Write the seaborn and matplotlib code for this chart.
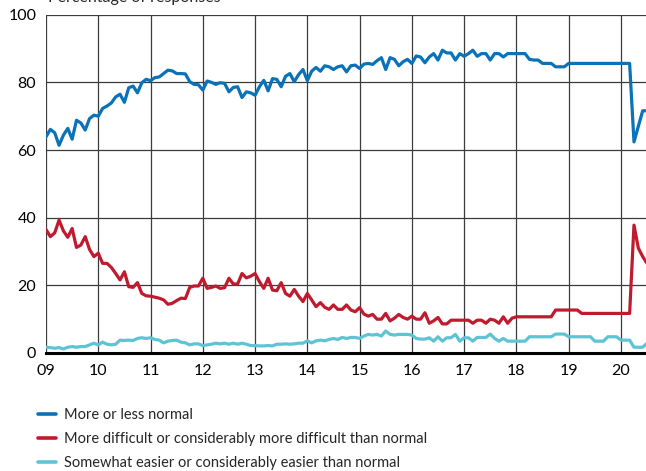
import numpy as np
import pandas as pd
import seaborn as sns
import matplotlib.pyplot as plt

# monthly survey shares, Jan 2009 .. Jul 2020 (percent of responses)
normal = [
    63.9, 66.1, 65.1, 61.4, 64.4, 66.4, 63.2, 68.8, 68.0, 65.9, 69.3, 70.3,  # 2009
    70.0, 72.3, 73.0, 73.9, 75.7, 76.5, 74.1, 78.4, 78.9, 76.9, 79.9, 80.9,  # 2010
    80.5, 81.4, 81.6, 82.6, 83.6, 83.4, 82.6, 82.6, 82.5, 80.2, 79.4, 79.3,  # 2011
    77.7, 80.4, 80.0, 79.4, 79.9, 79.7, 77.2, 78.5, 78.7, 75.5, 77.2, 76.9,  # 2012
    76.2, 78.7, 80.6, 77.5, 81.1, 80.9, 78.7, 81.8, 82.6, 80.2, 82.3, 83.8,  # 2013
    80.5, 83.3, 84.4, 83.3, 84.9, 84.6, 83.8, 84.6, 84.9, 83.1, 84.9, 85.1,  # 2014
    84.1, 85.4, 85.6, 85.3, 86.4, 87.3, 83.8, 87.3, 86.8, 84.9, 86.1, 86.8,  # 2015
    85.6, 87.8, 87.5, 85.8, 87.5, 88.5, 86.6, 89.5, 88.7, 88.7, 86.6, 88.5,  # 2016
    87.7, 88.5, 89.5, 87.7, 88.5, 88.5, 86.6, 88.5, 88.5, 87.5, 88.5, 88.5,  # 2017
    88.5, 88.5, 88.5, 86.8, 86.6, 86.6, 85.6, 85.6, 85.6, 84.6, 84.6, 84.6,  # 2018
    85.6, 85.6, 85.6, 85.6, 85.6, 85.6, 85.6, 85.6, 85.6, 85.6, 85.6, 85.6,  # 2019
    85.6, 85.6, 85.6, 62.4, 67.0, 71.6, 71.6,                                # 2020
]
harder = [
    36.5, 34.4, 35.5, 39.3, 36.1, 34.2, 36.8, 31.2, 31.9, 34.4, 30.6, 28.5,
    29.5, 26.5, 26.5, 25.3, 23.5, 21.6, 24.0, 19.6, 19.4, 20.8, 17.6, 16.9,
    16.8, 16.5, 16.2, 15.7, 14.4, 14.7, 15.5, 16.2, 16.1, 19.4, 19.8, 19.8,
    22.1, 19.1, 19.4, 19.8, 19.1, 19.3, 22.1, 20.4, 20.4, 23.5, 22.2, 22.7,
    23.5, 21.1, 19.1, 22.1, 18.6, 18.4, 20.8, 17.6, 16.8, 18.8, 16.8, 15.2,
    17.6, 15.7, 13.7, 14.9, 13.5, 12.9, 14.2, 12.9, 12.9, 14.2, 12.7, 12.2,
    13.4, 11.5, 10.9, 11.4, 10.0, 10.0, 11.7, 9.5, 10.3, 11.4, 10.5, 10.0,
    10.9, 10.0, 10.0, 11.9, 8.8, 9.5, 10.5, 8.6, 8.6, 9.7, 9.7, 9.7,
    9.7, 9.7, 8.8, 9.7, 9.7, 8.8, 10.0, 9.7, 8.8, 10.7, 8.8, 10.3,
    10.7, 10.7, 10.7, 10.7, 10.7, 10.7, 10.7, 10.7, 10.7, 12.7, 12.7, 12.7,
    12.7, 12.7, 12.7, 11.7, 11.7, 11.7, 11.7, 11.7, 11.7, 11.7, 11.7, 11.7,
    11.7, 11.7, 11.7, 37.8, 31.0, 28.5, 26.5,
]
easier = [
    1.7, 1.6, 1.4, 1.6, 1.2, 1.7, 1.9, 1.7, 1.9, 1.9, 2.4, 2.9,
    2.4, 3.2, 2.6, 2.4, 2.6, 3.8, 3.7, 3.8, 3.7, 4.3, 4.5, 4.3,
    4.5, 4.0, 3.8, 3.0, 3.5, 3.7, 3.8, 3.2, 3.0, 2.4, 2.7, 2.7,
    2.2, 2.4, 2.6, 2.9, 2.7, 2.9, 2.6, 2.9, 2.6, 2.9, 2.6, 2.2,
    2.2, 2.1, 2.1, 2.2, 2.1, 2.6, 2.6, 2.7, 2.6, 2.7, 2.9, 2.9,
    3.6, 3.0, 3.6, 3.8, 3.6, 4.0, 4.3, 4.0, 4.6, 4.3, 4.6, 4.6,
    4.3, 5.0, 5.5, 5.3, 5.5, 5.0, 6.5, 5.5, 5.3, 5.5, 5.5, 5.5,
    5.3, 4.3, 4.1, 4.1, 4.5, 3.5, 4.8, 3.5, 4.5, 4.5, 5.5, 3.5,
    4.5, 4.5, 3.5, 4.6, 4.6, 4.6, 5.6, 4.3, 3.5, 4.3, 3.5, 3.5,
    3.5, 3.5, 3.5, 4.8, 4.8, 4.8, 4.8, 4.8, 4.8, 5.6, 5.6, 5.6,
    4.8, 4.8, 4.8, 4.8, 4.8, 4.8, 3.5, 3.5, 3.5, 4.8, 4.8, 4.8,
    3.8, 3.8, 3.8, 1.7, 1.7, 1.7, 2.9,
]
labels = ["More or less normal",
          "More difficult or considerably more difficult than normal",
          "Somewhat easier or considerably easier than normal"]
colors = ["#0a72b8", "#c01a2e", "#5ec4d4"]
year_ticks = list(range(2009, 2021))
year_labels = ["%02d" % (y % 100) for y in year_ticks]

months = pd.date_range("2009-01-01", periods=len(normal), freq="MS")
t = months.year + (months.month - 1) / 12.0
df = pd.concat([
    pd.DataFrame({"t": t, "pct": vals, "series": lab})
    for vals, lab in zip([normal, harder, easier], labels)
])

sns.set_style("white")
plt.rcParams["font.family"] = ["Lato", "DejaVu Sans"]

fig = plt.figure(figsize=(6.46, 4.71), dpi=100)
ax = fig.add_axes([46 / 646, 1 - 353 / 471, 1 - 46 / 646, (353 - 14.7) / 471])
sns.lineplot(data=df, x="t", y="pct", hue="series", hue_order=labels,
             palette=dict(zip(labels, colors)), linewidth=2.3, ax=ax,
             legend=True, clip_on=True)

ax.set_xlim(2009, 2020.48)
ax.set_ylim(0, 100)
ax.set_xticks(year_ticks)
ax.set_xticklabels(year_labels)
ax.set_yticks([0, 20, 40, 60, 80, 100])
ax.grid(True, color="#3c3c3c", linewidth=0.9)
ax.set_axisbelow(True)
ax.tick_params(length=0, labelsize=11.5, colors="black")
ax.tick_params(axis="y", pad=7)
ax.tick_params(axis="x", pad=8)
ax.set_xlabel("")
ax.set_ylabel("")
for s in ["top", "right", "left"]:
    ax.spines[s].set_visible(False)
ax.spines["bottom"].set_color("black")
ax.spines["bottom"].set_linewidth(2.2)

fig.text(48 / 646, 1 - 2 / 471, "Percentage of responses", fontsize=11.5,
         va="baseline", ha="left")

handles, labs = ax.get_legend_handles_labels()
ax.get_legend().remove()
for h in handles:
    h.set_linewidth(2.6)
fig.legend(handles, labs, loc="upper left", bbox_to_anchor=(38 / 646, 1 - 408 / 471),
           frameon=False, fontsize=10.5, handlelength=1.2, handletextpad=0.55,
           labelspacing=0.68, borderpad=0, borderaxespad=0)

fig.savefig("out.png", dpi=100)
